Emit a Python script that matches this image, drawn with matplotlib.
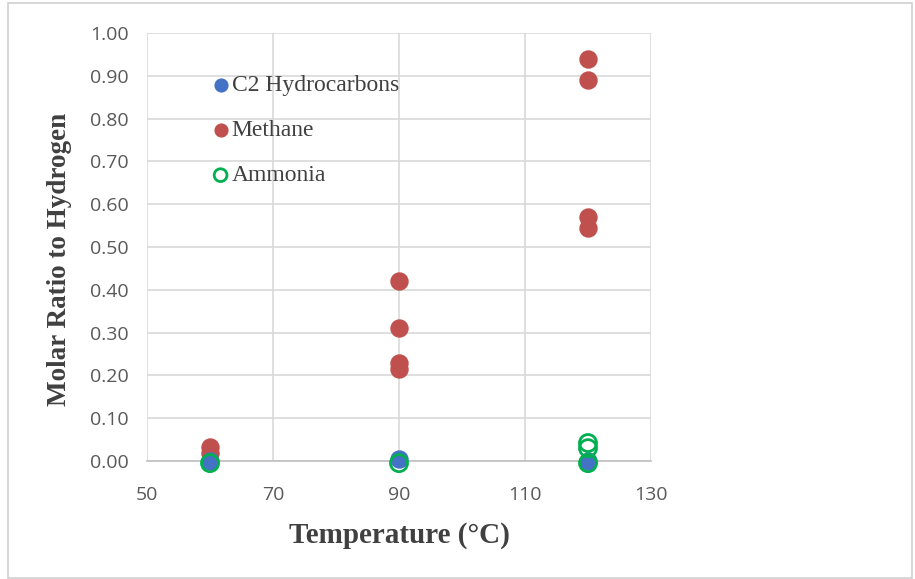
import matplotlib
matplotlib.use('Agg')
import matplotlib.pyplot as plt
from matplotlib.patches import Rectangle

# data
c2_t = [60, 90, 120]
c2_r = [0.0, 0.005, 0.0]
ch4_t = [60, 60, 90, 90, 90, 90, 120, 120, 120, 120]
ch4_r = [0.033, 0.018, 0.42, 0.31, 0.23, 0.215, 0.94, 0.89, 0.57, 0.545]
nh3_t = [60, 90, 120, 120, 120]
nh3_r = [-0.005, -0.005, 0.042, 0.03, -0.005]

yticks = [0.0, 0.1, 0.2, 0.3, 0.4, 0.5, 0.6, 0.7, 0.8, 0.9, 1.0]
xticks = [50, 70, 90, 110, 130]

fig = plt.figure(figsize=(9.15, 5.79), dpi=100)
fig.patches.append(Rectangle((0.009, 0.002), 0.988, 0.993, transform=fig.transFigure,
                             fill=False, edgecolor='#d0d0d0', lw=1.2))
ax = fig.add_axes([147/915, 1 - 461/579, (651-147)/915, (461-33)/579])

ms = 150
ax.scatter(c2_t, c2_r, s=ms, color='#4472C4', label='C2 Hydrocarbons', zorder=3, clip_on=False)
ax.scatter(ch4_t, ch4_r, s=ms, color='#C0504D', label='Methane', zorder=2, clip_on=False)
ax.scatter(nh3_t, nh3_r, s=ms, facecolors='none', edgecolors='#00B050', linewidths=2,
           label='Ammonia', zorder=4, clip_on=False)

ax.set_xlim(50, 130)
ax.set_ylim(0, 1.0)
ax.set_xticks(xticks)
ax.set_yticks(yticks)
ax.set_yticklabels(['%.2f' % v for v in yticks])
ax.grid(True, color='#d9d9d9', lw=1.2)
ax.set_axisbelow(True)
for s in ['top', 'right', 'left']:
    ax.spines[s].set_visible(False)
ax.spines['bottom'].set_color('#bfbfbf')
ax.spines['bottom'].set_linewidth(1.2)
ax.tick_params(length=0, labelsize=14, labelcolor='#595959')
ax.tick_params(axis='x', pad=18)
ax.tick_params(axis='y', pad=13)
for lab in ax.get_xticklabels() + ax.get_yticklabels():
    lab.set_family('Open Sans')

ax.set_xlabel('Temperature (°C)', family='Liberation Serif', fontweight='bold',
              fontsize=21, color='#404040', labelpad=13)
ax.set_ylabel('Molar Ratio to Hydrogen', family='Liberation Serif', fontweight='bold',
              fontsize=19.5, color='#404040')
ax.yaxis.set_label_coords(-0.149, 0.472)

ax.legend(loc='upper left', bbox_to_anchor=(0.105, 0.925), frameon=False,
          prop={'family': 'Liberation Serif', 'size': 17}, labelcolor='#404040',
          handletextpad=0.0, handlelength=0.95, labelspacing=1.0, markerscale=0.75,
          borderaxespad=0)

fig.savefig('out.png', dpi=100)
